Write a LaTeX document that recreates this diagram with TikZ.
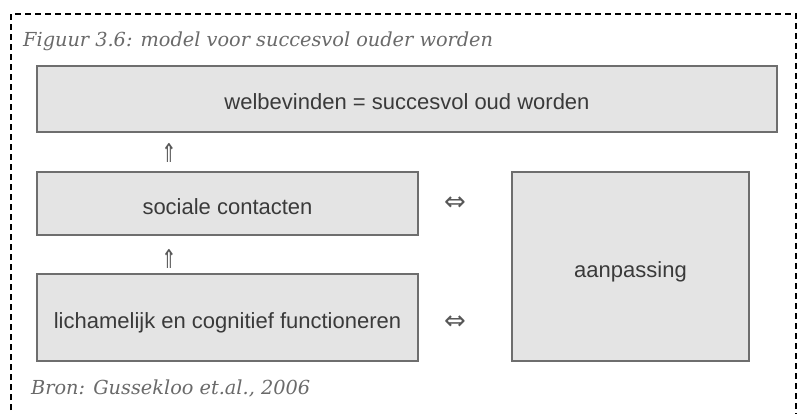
\documentclass[tikz,border=0pt]{standalone}
\usepackage{fontspec}
\setmainfont{Liberation Sans}
\newfontfamily\captionfont{DejaVu Serif}
\newfontfamily\symfont{DejaVu Sans}
\definecolor{boxfill}{HTML}{E4E4E4}
\definecolor{boxline}{HTML}{6E6E6E}
\definecolor{boxtext}{HTML}{3A3A3A}
\definecolor{captext}{HTML}{6A6A6A}
\tikzset{
  modelbox/.style={draw=boxline, line width=1.2pt, fill=boxfill, inner sep=0pt,
    text=boxtext, font=\fontsize{22}{26}\selectfont,
    text height=21pt, text depth=0pt},
  sym/.style={text=boxtext!85, font=\symfont\fontsize{26}{30}\selectfont, inner sep=0pt},
  upsym/.style={sym, xscale=0.7},
  captionstyle/.style={text=captext, anchor=base west, inner sep=0pt,
    font=\captionfont\itshape\fontsize{19.3}{22}\selectfont},
}
\begin{document}
\begin{tikzpicture}[x=1pt, y=-1pt]
\useasboundingbox (0,0) rectangle (805,414);
\fill[white] (0,0) rectangle (805,414);
% dashed frame (continues below the visible area)
\begin{scope}
\clip (0,0) rectangle (805,414);
\draw[line width=1.8pt, dash pattern=on 6pt off 4pt] (11,440) -- (11,14) -- (796,14) -- (796,440);
\end{scope}
\node[captionstyle] (cap) at (23,47) {Figuur 3.6: model voor succesvol ouder worden};
\node[captionstyle] (src) at (31,394) {Bron: Gussekloo et.al., 2006};
% boxes
\node[modelbox, minimum width=740pt, minimum height=66pt] (wel) at (407,99) {welbevinden = succesvol oud worden};
\node[modelbox, minimum width=381pt, minimum height=63pt] (soc) at (227.5,203.5) {sociale contacten};
\node[modelbox, minimum width=381pt, minimum height=87pt] (lic) at (227.5,317.5) {lichamelijk en cognitief functioneren};
\node[modelbox, minimum width=237pt, minimum height=189pt] (aan) at (630.5,266.5) {aanpassing};
% relation symbols
\node[upsym] (u1) at (169,153) {⇑};
\node[upsym] (u2) at (169,259) {⇑};
\node[sym] (d1) at (455,204) {⇔};
\node[sym] (d2) at (455,323) {⇔};
\end{tikzpicture}
\end{document}
